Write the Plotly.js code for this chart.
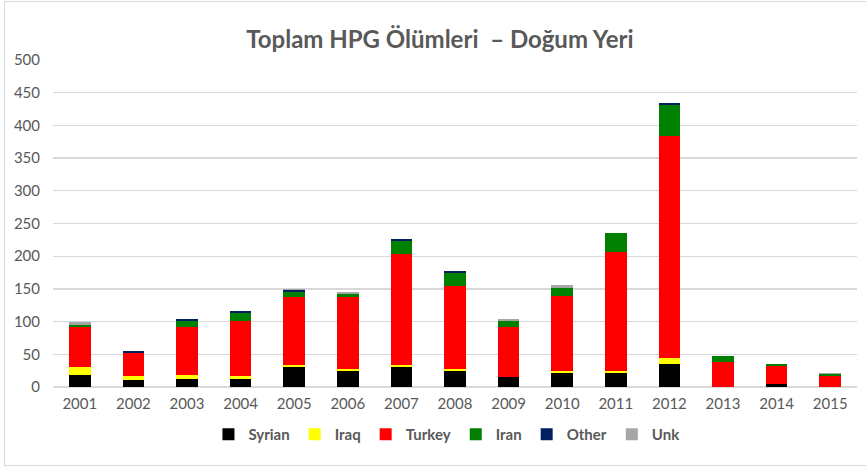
<!DOCTYPE html>
<html>
<head>
<meta charset="utf-8">
<script src="https://cdn.plot.ly/plotly-3.0.1.min.js"></script>
<style>
  html, body { margin: 0; padding: 0; background: #fff; }
  #wrap { position: relative; width: 866px; height: 469px; }
  #chart { width: 866px; height: 469px; }
  #frame { position: absolute; left: 4px; top: 1px; width: 866px; height: 465px;
           border: 1px solid #d9d9d9; box-sizing: border-box; pointer-events: none; }
</style>
</head>
<body>
<div id="wrap">
  <div id="chart"></div>
  <div id="frame"></div>
</div>
<script>
const years   = ['2001','2002','2003','2004','2005','2006','2007','2008','2009','2010','2011','2012','2013','2014','2015'];
const syrian  = [19, 10, 13, 13, 31, 25, 31, 25, 15, 21, 21, 35, 0, 5, 0];
const iraq    = [12,  7,  6,  4,  3,  3,  3,  3,  0,  3,  3,  9, 0, 0, 0];
const turkey  = [61, 35, 73, 84,103,109,170,126, 77,115,182,340,38,27,17];
const iran    = [ 3,  0,  9, 12,  9,  5, 20, 20,  9, 13, 29, 47, 9, 3, 3];
const other   = [ 0,  3,  3,  3,  2,  0,  2,  3,  0,  0,  0,  3, 0, 0, 0];
const unk     = [ 5,  0,  0,  0,  2,  3,  1,  0,  3,  4,  0,  0, 1, 0, 1];

const seriesNames  = ['Syrian','Iraq','Turkey','Iran','Other','Unk'];
const seriesValues = [syrian, iraq, turkey, iran, other, unk];
const seriesColors = ['#000000','#FFFF00','#FF0000','#008000','#002060','#A6A6A6'];

const traces = seriesNames.map((n, i) => ({
  type: 'bar',
  name: n,
  x: years,
  y: seriesValues[i],
  marker: { color: seriesColors[i], line: { width: 0 } },
  hoverinfo: 'x+y+name'
}));

const layout = {
  width: 866, height: 469,
  margin: { l: 53, r: 9, t: 60, b: 82 },
  paper_bgcolor: '#ffffff',
  plot_bgcolor: '#ffffff',
  barmode: 'stack',
  bargap: 0.6,
  font: { family: 'Lato, "Open Sans", sans-serif', color: '#595959', size: 14 },
  title: {
    text: 'Toplam HPG Ölümleri  – Doğum Yeri',
    font: { family: 'Lato, "Open Sans", sans-serif', size: 24, color: '#595959', weight: 'bold' },
    x: 0.508, xanchor: 'center', y: 0.915, yanchor: 'middle'
  },
  xaxis: {
    type: 'category',
    showgrid: false, zeroline: false, showline: false,
    ticks: '', tickfont: { size: 15, color: '#595959' },
    ticklabelstandoff: 6
  },
  yaxis: {
    range: [0, 500], dtick: 50, tick0: 0,
    showgrid: true, gridcolor: '#d9d9d9', gridwidth: 1.3,
    zeroline: true, zerolinecolor: '#d9d9d9', zerolinewidth: 1.3,
    showline: false, ticks: '',
    tickfont: { size: 15, color: '#595959' },
    ticklabelstandoff: 12
  },
  showlegend: true,
  legend: {
    orientation: 'h', x: 0.49, xanchor: 'center', y: -0.145, yanchor: 'middle',
    font: { size: 15, color: '#595959', weight: 'bold' },
    itemwidth: 30, traceorder: 'normal', itemclick: false
  }
};

Plotly.newPlot('chart', traces, layout, { displayModeBar: false, staticPlot: true });
</script>
</body>
</html>
